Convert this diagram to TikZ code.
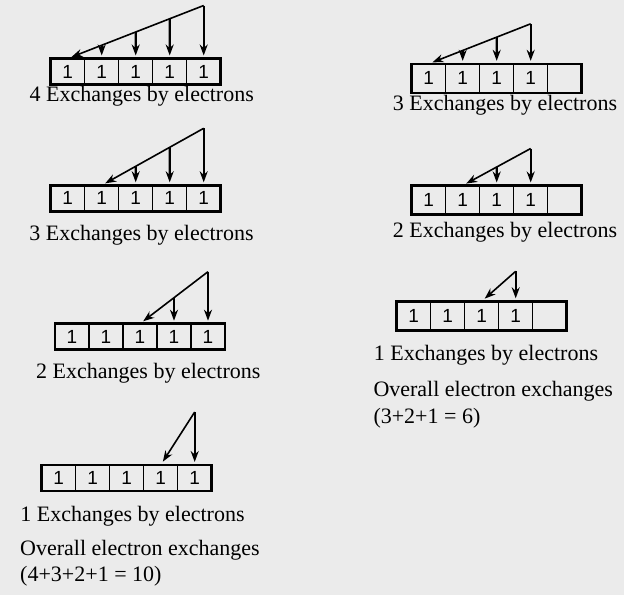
\documentclass[tikz,border=0pt]{standalone}
\usepackage{fontspec}
\setmainfont{Liberation Serif}
\newfontfamily\cellfont{Liberation Sans}
\usetikzlibrary{positioning,calc,arrows.meta}
\definecolor{bg}{RGB}{235,235,235}
\tikzset{
  cell/.style={draw, line width=1.3pt, minimum width=34pt, minimum height=26pt,
    inner sep=0pt, outer sep=0pt, font=\cellfont\fontsize{19}{19}\selectfont},
  cellR/.style={cell, minimum height=29pt},
  frame/.style={line width=2.6pt},
  slant/.style={-{Stealth[length=11pt,width=8pt]}, line width=1.6pt, shorten >=4pt},
  drop/.style={-{Stealth[length=11pt,width=8pt]}, line width=2.4pt, shorten >=3pt},
  lbl/.style={inner sep=0pt, font=\fontsize{22}{26}\selectfont}
}
\begin{document}
\begin{tikzpicture}[x=1pt, y=-1pt]
  \fill[bg] (0,0) rectangle (624,595);
  \useasboundingbox (0,0) rectangle (624,595);
  % left column
  \node[cell] (a1) at (67.7,71.5) {1};
  \node[cell, right=0pt of a1] (a2) {1};
  \node[cell, right=0pt of a2] (a3) {1};
  \node[cell, right=0pt of a3] (a4) {1};
  \node[cell, right=0pt of a4] (a5) {1};
  \draw[frame] (a1.north west) rectangle (a5.south east);
  \coordinate (tA) at ($(a5.north)+(0,-53)$);
  \draw[slant] (tA) -- (a1.north);
  \draw[drop] (tA) -- (a5.north);
  \draw[drop] ($(tA)!0.25!(a1.north)$) -- (a4.north);
  \draw[drop] ($(tA)!0.5!(a1.north)$) -- (a3.north);
  \draw[drop] ($(tA)!0.75!(a1.north)$) -- (a2.north);
  \node[lbl, anchor=base] (la) at (141.7,101.7) {4 Exchanges by electrons};

  \node[cell] (b1) at (67.7,198.3) {1};
  \node[cell, right=0pt of b1] (b2) {1};
  \node[cell, right=0pt of b2] (b3) {1};
  \node[cell, right=0pt of b3] (b4) {1};
  \node[cell, right=0pt of b4] (b5) {1};
  \draw[frame] (b1.north west) rectangle (b5.south east);
  \coordinate (tB) at ($(b5.north)+(0,-57)$);
  \draw[slant] (tB) -- (b2.north);
  \draw[drop] (tB) -- (b5.north);
  \draw[drop] ($(tB)!1/3!(b2.north)$) -- (b4.north);
  \draw[drop] ($(tB)!2/3!(b2.north)$) -- (b3.north);
  \node[lbl, anchor=base] (lb) at (141.5,240) {3 Exchanges by electrons};

  \node[cell] (c1) at (72,336.7) {1};
  \node[cell, right=0pt of c1] (c2) {1};
  \node[cell, right=0pt of c2] (c3) {1};
  \node[cell, right=0pt of c3] (c4) {1};
  \node[cell, right=0pt of c4] (c5) {1};
  \draw[frame] (c1.north west) rectangle (c5.south east);
  \coordinate (tC) at ($(c5.north)+(0,-52)$);
  \draw[slant] (tC) -- (c3.north);
  \draw[drop] (tC) -- (c5.north);
  \draw[drop] ($(tC)!0.5!(c3.north)$) -- (c4.north);
  \node[lbl, anchor=base] (lc) at (148.3,378) {2 Exchanges by electrons};

  \node[cell] (d1) at (58.7,478) {1};
  \node[cell, right=0pt of d1] (d2) {1};
  \node[cell, right=0pt of d2] (d3) {1};
  \node[cell, right=0pt of d3] (d4) {1};
  \node[cell, right=0pt of d4] (d5) {1};
  \draw[frame] (d1.north west) rectangle (d5.south east);
  \coordinate (tD) at ($(d5.north)+(0,-53)$);
  \draw[slant] (tD) -- (d4.north);
  \draw[drop] (tD) -- (d5.north);
  \node[lbl, anchor=base] (ld) at (132.5,521.7) {1 Exchanges by electrons};
  \node[lbl, anchor=base west] (ld2) at (20,555) {Overall electron exchanges};
  \node[lbl, anchor=base west] (ld3) at (20,581.7) {(4+3+2+1 = 10)};

  % right column
  \node[cellR] (e1) at (428.7,78.3) {1};
  \node[cellR, right=0pt of e1] (e2) {1};
  \node[cellR, right=0pt of e2] (e3) {1};
  \node[cellR, right=0pt of e3] (e4) {1};
  \node[cellR, right=0pt of e4] (e5) {};
  \draw[frame] (e1.north west) rectangle (e5.south east);
  \coordinate (tE) at ($(e4.north)+(0,-40)$);
  \draw[slant] (tE) -- (e1.north);
  \draw[drop] (tE) -- (e4.north);
  \draw[drop] ($(tE)!1/3!(e1.north)$) -- (e3.north);
  \draw[drop] ($(tE)!2/3!(e1.north)$) -- (e2.north);
  \node[lbl, anchor=base] (le) at (505,110) {3 Exchanges by electrons};

  \node[cellR] (f1) at (428.7,200) {1};
  \node[cellR, right=0pt of f1] (f2) {1};
  \node[cellR, right=0pt of f2] (f3) {1};
  \node[cellR, right=0pt of f3] (f4) {1};
  \node[cellR, right=0pt of f4] (f5) {};
  \draw[frame] (f1.north west) rectangle (f5.south east);
  \coordinate (tF) at ($(f4.north)+(0,-37)$);
  \draw[slant] (tF) -- (f2.north);
  \draw[drop] (tF) -- (f4.north);
  \draw[drop] ($(tF)!0.5!(f2.north)$) -- (f3.north);
  \node[lbl, anchor=base] (lf) at (505,237) {2 Exchanges by electrons};

  \node[cellR] (g1) at (413.7,315.8) {1};
  \node[cellR, right=0pt of g1] (g2) {1};
  \node[cellR, right=0pt of g2] (g3) {1};
  \node[cellR, right=0pt of g3] (g4) {1};
  \node[cellR, right=0pt of g4] (g5) {};
  \draw[frame] (g1.north west) rectangle (g5.south east);
  \coordinate (tG) at ($(g4.north)+(0,-30)$);
  \draw[slant] (tG) -- (g3.north);
  \draw[drop] (tG) -- (g4.north);
  \node[lbl, anchor=base] (lg) at (486,360) {1 Exchanges by electrons};
  \node[lbl, anchor=base west] (lg2) at (373.3,396.7) {Overall electron exchanges};
  \node[lbl, anchor=base west] (lg3) at (373.3,423.3) {(3+2+1 = 6)};
\end{tikzpicture}
\end{document}
